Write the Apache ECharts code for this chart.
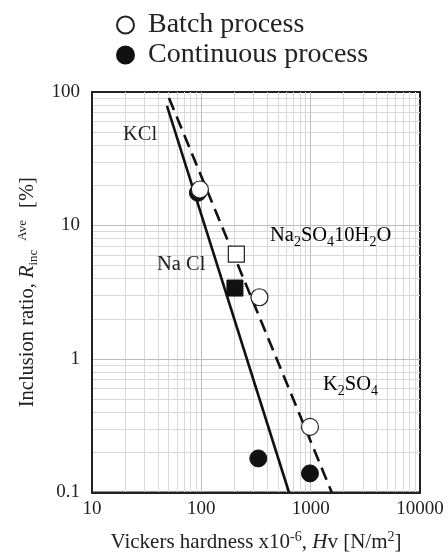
<!DOCTYPE html>
<html lang="en">
<head>
  <meta charset="UTF-8">
  <title>Inclusion ratio vs Vickers hardness</title>
  <script src="https://cdn.jsdelivr.net/npm/echarts@6/dist/echarts.min.js"></script>
  <style>
    html, body { margin: 0; padding: 0; background: #fff; }
    #main { width: 448px; height: 558px; }
  </style>
</head>
<body>
  <div id="main"></div>
  <script>
    // measured points [Hv x1e-6, inclusion ratio %]
    var batchPts = [[97, 18.6], [209, 6.1], [340, 2.9], [986, 0.31]]
    var batchSym = ['circle', 'rect', 'circle', 'circle']
    var contPts = [[93, 17.6], [203, 3.4], [332, 0.18], [986, 0.139]]
    var contSym = ['circle', 'rect', 'circle', 'circle']
    // fitted lines
    var solidLine = [[48.5, 78.7], [634, 0.1]]
    var dashLine = [[50.6, 90.2], [1560, 0.1]]

    var xMajor = [100, 1000]
    var yMajor = [1, 10]
    var xMinor = []
    var yMinor = []
    ;[10, 100, 1000].forEach(function (d) {
      for (var k = 2; k <= 9; k++) xMinor.push(k * d)
    })
    ;[0.1, 1, 10].forEach(function (d) {
      for (var k = 2; k <= 9; k++) yMinor.push(+(k * d).toFixed(2))
    })

    var serif = '"Liberation Serif", "DejaVu Serif", serif'
    var ink = '#222'

    function withSym(pts, syms) {
      return pts.map(function (p, i) {
        return { value: p, symbol: syms[i], symbolSize: syms[i] === 'rect' ? 16 : 17 }
      })
    }

    var gridLines = []
    xMinor.forEach(function (v) { gridLines.push({ xAxis: v, lineStyle: { color: '#d8d8d8' } }) })
    yMinor.forEach(function (v) { gridLines.push({ yAxis: v, lineStyle: { color: '#d8d8d8' } }) })
    xMajor.forEach(function (v) { gridLines.push({ xAxis: v, lineStyle: { color: '#bcbcbc' } }) })
    yMajor.forEach(function (v) { gridLines.push({ yAxis: v, lineStyle: { color: '#bcbcbc' } }) })

    var subRich = {
      a: { fontSize: 20.5, fontFamily: serif, color: ink, lineHeight: 26 },
      sub: { fontSize: 14, fontFamily: serif, color: ink, lineHeight: 13, verticalAlign: 'bottom' }
    }

    function plainNum(v) { return String(v) }

    var mCharts = echarts.init(document.getElementById('main'), null, { renderer: 'canvas' })
    var option = {
      animation: false,
      backgroundColor: '#fff',
      grid: {
        left: 92, top: 92, right: 28, bottom: 64,
        show: true, borderColor: ink, borderWidth: 2, backgroundColor: 'transparent'
      },
      legend: {
        orient: 'vertical',
        left: 111,
        top: 6,
        itemWidth: 17,
        itemHeight: 17,
        itemGap: 2,
        data: ['Batch process', 'Continuous process'],
        textStyle: { fontSize: 28, fontFamily: serif, color: ink, lineHeight: 28, padding: [0, 0, 0, 9] }
      },
      xAxis: {
        type: 'log',
        logBase: 10,
        min: 10,
        max: 10000,
        z: 5,
        axisLine: { show: true, lineStyle: { color: ink, width: 2 } },
        axisTick: { show: false },
        splitLine: { show: false },
        axisLabel: { fontSize: 19, fontFamily: serif, color: ink, margin: 7, formatter: plainNum },
        nameLocation: 'middle',
        nameGap: 38,
        name: '{a|Vickers hardness x10}{sup|-6}{a|, }{i|H}{a|v [N/m}{sup|2}{a|]}',
        nameTextStyle: {
          rich: {
            a: { fontSize: 21, fontFamily: serif, color: ink, lineHeight: 24 },
            i: { fontSize: 21, fontFamily: serif, fontStyle: 'italic', color: ink, lineHeight: 24 },
            sup: { fontSize: 14, fontFamily: serif, color: ink, lineHeight: 12, verticalAlign: 'top' }
          }
        }
      },
      yAxis: {
        type: 'log',
        logBase: 10,
        min: 0.1,
        max: 100,
        z: 5,
        axisLine: { show: true, lineStyle: { color: ink, width: 2 } },
        axisTick: { show: false },
        splitLine: { show: false },
        axisLabel: { fontSize: 19, fontFamily: serif, color: ink, margin: 12, formatter: plainNum },
        nameLocation: 'middle',
        nameGap: 52,
        name: '{a|Inclusion ratio, }{i|R}{sub|inc}{sup|Ave}{a|[%]}',
        nameTextStyle: {
          rich: {
            a: { fontSize: 20.5, fontFamily: serif, color: ink, lineHeight: 24 },
            i: { fontSize: 20.5, fontFamily: serif, fontStyle: 'italic', color: ink, lineHeight: 24 },
            sub: { fontSize: 13, fontFamily: serif, color: ink, lineHeight: 12, verticalAlign: 'bottom' },
            sup: { fontSize: 13, fontFamily: serif, color: ink, lineHeight: 12, verticalAlign: 'top', padding: [0, 12, 0, 9] }
          }
        }
      },
      graphic: [
        { type: 'text', z: 10, x: 123, y: 135, style: { text: 'KCl', font: '20.5px ' + serif, fill: ink, verticalAlign: 'middle' } },
        { type: 'text', z: 10, x: 157, y: 265, style: { text: 'Na Cl', font: '20.5px ' + serif, fill: ink, verticalAlign: 'middle' } },
        {
          type: 'text', z: 10, x: 270, y: 236,
          style: { text: '{a|Na}{sub|2}{a|SO}{sub|4}{a|10H}{sub|2}{a|O}', rich: subRich, verticalAlign: 'middle' }
        },
        {
          type: 'text', z: 10, x: 323, y: 385,
          style: { text: '{a|K}{sub|2}{a|SO}{sub|4}', rich: subRich, verticalAlign: 'middle' }
        }
      ],
      series: [
        {
          type: 'scatter',
          data: [],
          z: 1,
          silent: true,
          markLine: {
            silent: true,
            z: 1,
            symbol: ['none', 'none'],
            label: { show: false },
            lineStyle: { type: 'solid', width: 1 },
            emphasis: { disabled: true },
            data: gridLines
          }
        },
        {
          type: 'line',
          data: solidLine,
          z: 2,
          symbol: 'none',
          silent: true,
          lineStyle: { color: '#111', width: 2.6 }
        },
        {
          type: 'line',
          data: dashLine,
          z: 2,
          symbol: 'none',
          silent: true,
          lineStyle: { color: '#111', width: 2.6, type: [13, 7] }
        },
        {
          name: 'Continuous process',
          type: 'scatter',
          z: 3,
          symbol: 'circle',
          data: withSym(contPts, contSym),
          itemStyle: { color: '#111', borderColor: '#111', borderWidth: 1, opacity: 1 }
        },
        {
          name: 'Batch process',
          type: 'scatter',
          z: 4,
          symbol: 'circle',
          data: withSym(batchPts, batchSym),
          itemStyle: { color: '#fff', borderColor: '#222', borderWidth: 1.2, opacity: 1 }
        }
      ]
    }
    mCharts.setOption(option)
  </script>
</body>
</html>
